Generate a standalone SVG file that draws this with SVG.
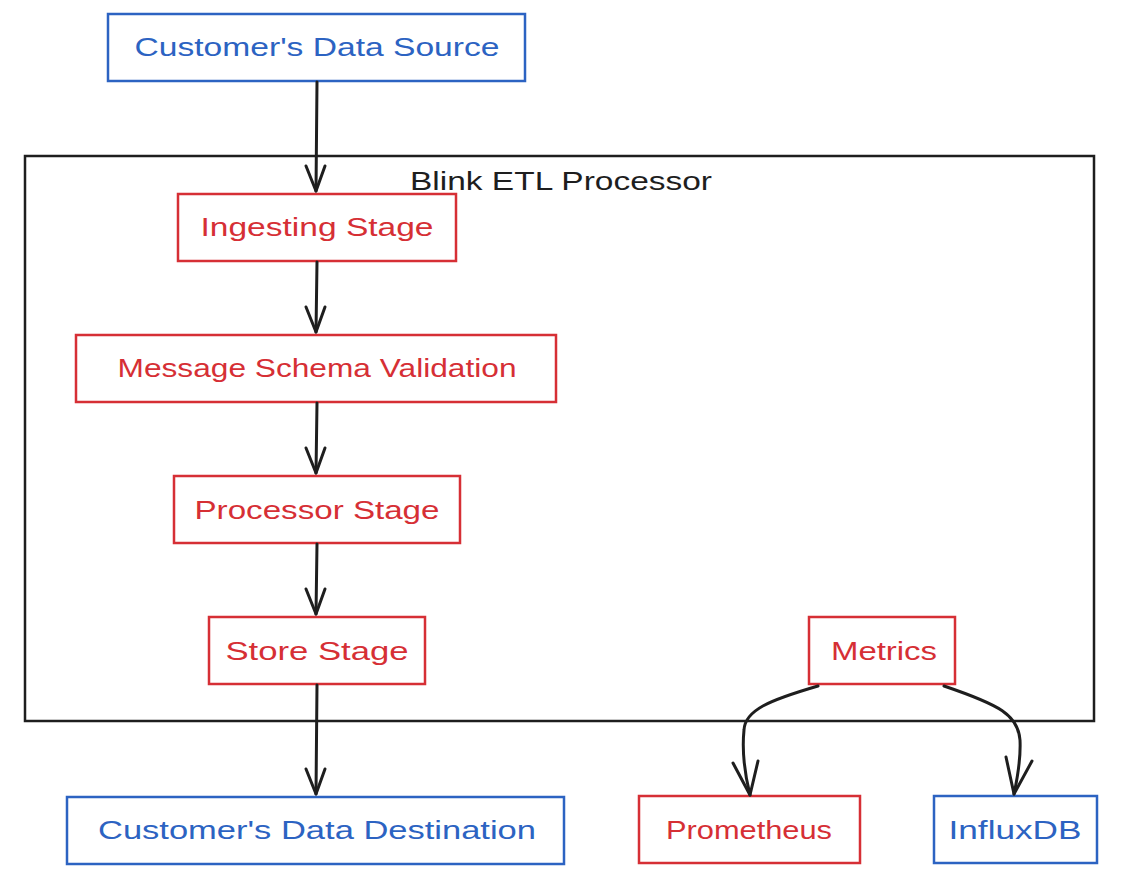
<svg xmlns="http://www.w3.org/2000/svg" width="1125" height="890" viewBox="0 0 1125 890">
<style>
.box{fill:#fff;stroke-width:2.5}
.blue{stroke:#2c63c2}
.red{stroke:#d62f35}
.t{font-family:"Liberation Sans","DejaVu Sans",sans-serif;font-size:26px;text-anchor:middle;dominant-baseline:central}
.tb{fill:#2c63c2}
.tr{fill:#d62f35}
.edge{fill:none;stroke:#1e1e1e;stroke-width:3;stroke-linecap:round}
.head{fill:none;stroke:#1e1e1e;stroke-width:3;stroke-linecap:round;stroke-linejoin:round}
</style>
<rect width="1125" height="890" fill="#fff"/>
<g id="container">
<rect x="25" y="156" width="1069" height="565" fill="none" stroke="#1e1e1e" stroke-width="2.5"/>
<text x="561" y="181" class="t" fill="#1e1e1e" textLength="302" lengthAdjust="spacingAndGlyphs">Blink ETL Processor</text>
</g>
<g id="source"><rect class="box blue" x="108" y="14" width="417" height="67"/><text class="t tb" x="317" y="47" textLength="365" lengthAdjust="spacingAndGlyphs">Customer's Data Source</text></g>
<g id="ingest"><rect class="box red" x="178" y="194" width="278" height="67"/><text class="t tr" x="317" y="227" textLength="233" lengthAdjust="spacingAndGlyphs">Ingesting Stage</text></g>
<g id="schema"><rect class="box red" x="76" y="335" width="480" height="67"/><text class="t tr" x="317" y="368" textLength="399" lengthAdjust="spacingAndGlyphs">Message Schema Validation</text></g>
<g id="processor"><rect class="box red" x="174" y="476" width="286" height="67"/><text class="t tr" x="317" y="510" textLength="245" lengthAdjust="spacingAndGlyphs">Processor Stage</text></g>
<g id="store"><rect class="box red" x="209" y="617" width="216" height="67"/><text class="t tr" x="317" y="651" textLength="183" lengthAdjust="spacingAndGlyphs">Store Stage</text></g>
<g id="metrics"><rect class="box red" x="809" y="617" width="146" height="67"/><text class="t tr" x="884" y="651" textLength="106" lengthAdjust="spacingAndGlyphs">Metrics</text></g>
<g id="destination"><rect class="box blue" x="67" y="797" width="497" height="67"/><text class="t tb" x="317" y="830" textLength="438" lengthAdjust="spacingAndGlyphs">Customer's Data Destination</text></g>
<g id="prometheus"><rect class="box red" x="639" y="796" width="221" height="67"/><text class="t tr" x="749" y="830" textLength="166" lengthAdjust="spacingAndGlyphs">Prometheus</text></g>
<g id="influxdb"><rect class="box blue" x="934" y="796" width="163" height="67"/><text class="t tb" x="1015" y="830" textLength="133" lengthAdjust="spacingAndGlyphs">InfluxDB</text></g>
<g id="connectors">
<path class="edge" d="M317 82 L316 191"/><path class="head" d="M306 166 L316 191 L325 166"/>
<path class="edge" d="M317 262 L316 332"/><path class="head" d="M306 307 L316 332 L325 307"/>
<path class="edge" d="M317 403 L316 473"/><path class="head" d="M306 448 L316 473 L325 448"/>
<path class="edge" d="M317 544 L316 614"/><path class="head" d="M306 589 L316 614 L325 589"/>
<path class="edge" d="M317 685 L316 794"/><path class="head" d="M306 769 L316 794 L325 769"/>
<path class="edge" d="M818 686 C770 700 745 710 744 730 C742 750 745 775 750 795"/><path class="head" d="M733 763 L750 795 L758 761"/>
<path class="edge" d="M944 686 C1000 705 1018 715 1020 740 C1021 760 1017 780 1014 794"/><path class="head" d="M1006 757 L1014 794 L1032 761"/>
</g>
</svg>
